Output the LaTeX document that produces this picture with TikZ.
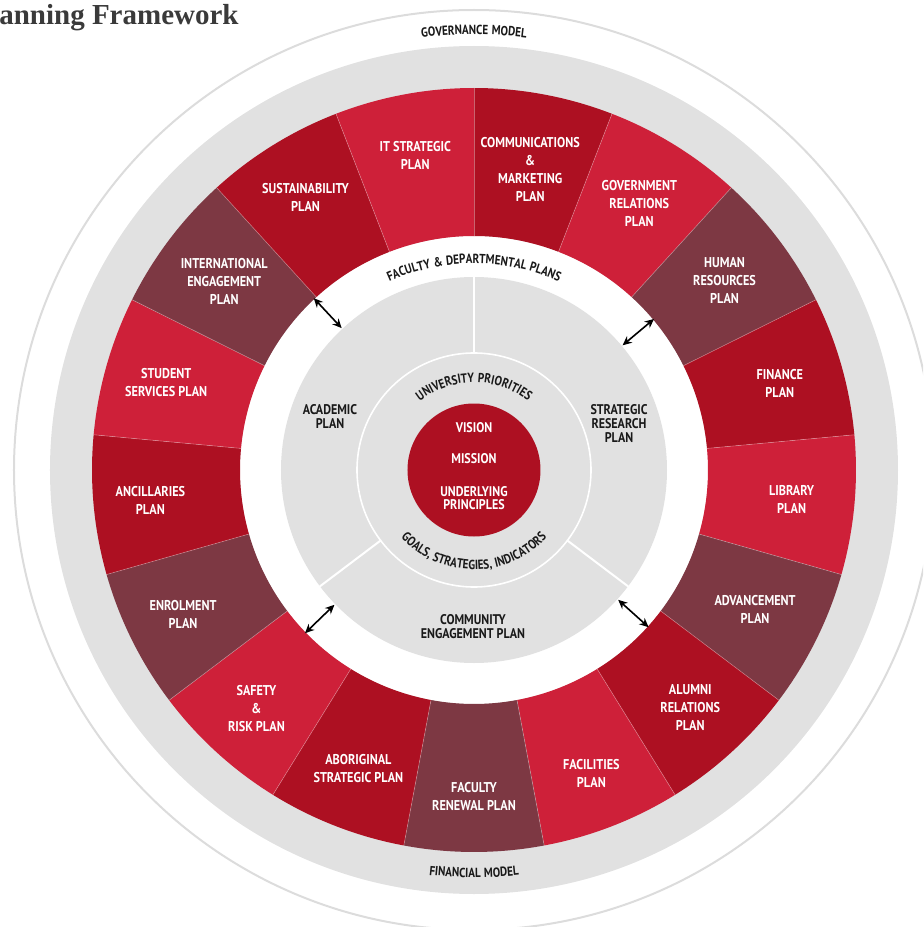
\documentclass[tikz,border=0pt]{standalone}
\usepackage{fontspec}
\usetikzlibrary{decorations.text,arrows.meta}
\newfontfamily\dinfont[FakeStretch=0.86]{PT Sans}
\newfontfamily\dinarcfont[FakeStretch=0.84,LetterSpace=4]{PT Sans}
\newfontfamily\titlefont{Liberation Serif}
\newcommand\arcfont{\dinarcfont\bfseries\fontsize{6.6}{7}\selectfont\color{black!90}}
\definecolor{brightred}{HTML}{CE2039}
\definecolor{darkred}{HTML}{AD1022}
\definecolor{maroon}{HTML}{7D3843}
\definecolor{ringgray}{HTML}{E1E1E1}
\definecolor{linegray}{HTML}{DCDCDC}
\definecolor{titlegray}{HTML}{3A3A3A}
\begin{document}
\begin{tikzpicture}[x=0.5pt,y=0.5pt,line join=round,line cap=round,>={Stealth[length=4.6pt,width=4.2pt]},
	seglabel/.style={text=white,align=center,inner sep=0,font=\dinfont\bfseries\fontsize{7.1}{9}\selectfont},
	innerlabel/.style={text=black!90,align=center,inner sep=0,font=\dinfont\bfseries\fontsize{7}{7}\selectfont},
	corelabel/.style={text=white,align=center,inner sep=0,font=\dinfont\bfseries\fontsize{7}{6.5}\selectfont},
	arctext/.style={decorate,decoration={text along path,text align=center,text={|\arcfont|#1}}}]
	\clip (-474,-457) rectangle (449,470);
	%title, cut off at the left edge
	\node[anchor=base east,inner sep=0,text=titlegray,font=\titlefont\bfseries\fontsize{14.5}{17}\selectfont] (title) at (-235,445) {anning Framework};
	%outer rings
	\draw[linegray,line width=1pt] (0,0) circle (460);
	\fill[ringgray] (0,0) circle (424);
	\fill[white] (0,0) circle (234);
	\path[arctext={GOVERNANCE MODEL}] (110:435.5) arc[start angle=110,end angle=70,radius=435.5];
	\path[arctext={FINANCIAL MODEL}] (250:407.5) arc[start angle=250,end angle=290,radius=407.5];
	%plan segments, clockwise from the top
	\foreach \r/\lbl [count=\i] in {306/{COMMUNICATIONS\\\&\\MARKETING\\PLAN},314/{GOVERNMENT\\RELATIONS\\PLAN},
		314/{HUMAN\\RESOURCES\\PLAN},318/{FINANCE\\PLAN},319/{LIBRARY\\PLAN},314/{ADVANCEMENT\\PLAN},
		321/{ALUMNI\\RELATIONS\\PLAN},325/{FACILITIES\\PLAN},326/{FACULTY\\RENEWAL PLAN},
		320/{ABORIGINAL\\STRATEGIC PLAN},323/{SAFETY\\\&\\RISK PLAN},325/{ENROLMENT\\PLAN},
		325/{ANCILLARIES\\PLAN},320/{STUDENT\\SERVICES PLAN},313/{INTERNATIONAL\\ENGAGEMENT\\PLAN},
		320/{SUSTAINABILITY\\PLAN},320/{IT STRATEGIC\\PLAN}}{
		\pgfmathsetmacro\a{90-(\i-1)*360/17}
		\pgfmathsetmacro\b{90-\i*360/17}
		\pgfmathsetmacro\m{(\a+\b)/2}
		\pgfmathtruncatemacro\c{mod(\i,3)}
		\ifcase\c \def\col{maroon}\or \def\col{darkred}\or \def\col{brightred}\fi
		\fill[fill=\col] (\a:234) arc[start angle=\a,end angle=\b,radius=234] -- (\b:382) arc[start angle=\b,end angle=\a,radius=382] -- cycle;
		\node[seglabel] (seg\i) at (\m:\r) {\lbl};
	}
	\foreach \k in {0,...,16}
	\draw[white,opacity=.35,line width=.3pt] ({90-\k*360/17}:234) -- ({90-\k*360/17}:382);
	\path[arctext={FACULTY {\&} DEPARTMENTAL PLANS}] (130:206.5) arc[start angle=130,end angle=50,radius=206.5];
	%inner disc
	\fill[ringgray] (0,0) circle (193);
	\foreach \ang in {90,217.06,322.94}
	\draw[white,line width=1pt] (\ang:117) -- (\ang:193);
	\draw[white,line width=.8pt] (0,0) circle (117);
	\fill[darkred] (0,0) circle (66.5);
	\node[innerlabel] (academic) at (-144,53) {ACADEMIC\\PLAN};
	\node[innerlabel] (research) at (145,46) {STRATEGIC\\RESEARCH\\PLAN};
	\node[innerlabel] (community) at (-1,-157) {COMMUNITY\\ENGAGEMENT PLAN};
	\path[arctext={UNIVERSITY PRIORITIES}] (150:87.5) arc[start angle=150,end angle=30,radius=87.5];
	\path[arctext={GOALS, STRATEGIES, INDICATORS}] (200:99.5) arc[start angle=200,end angle=340,radius=99.5];
	\node[corelabel] (vision) at (0,42) {VISION};
	\node[corelabel] (mission) at (0,11) {MISSION};
	\node[corelabel] (principles) at (0,-28.5) {UNDERLYING\\PRINCIPLES};
	%links between the rings
	\foreach \ang/\nm in {133/nw,40/ne,224/sw,318/se}{
		\coordinate (\nm in) at (\ang:194);
		\coordinate (\nm out) at (\ang:235);
		\draw[<->,line width=.8pt] (\nm in) -- (\nm out);
	}
\end{tikzpicture}
\end{document}
